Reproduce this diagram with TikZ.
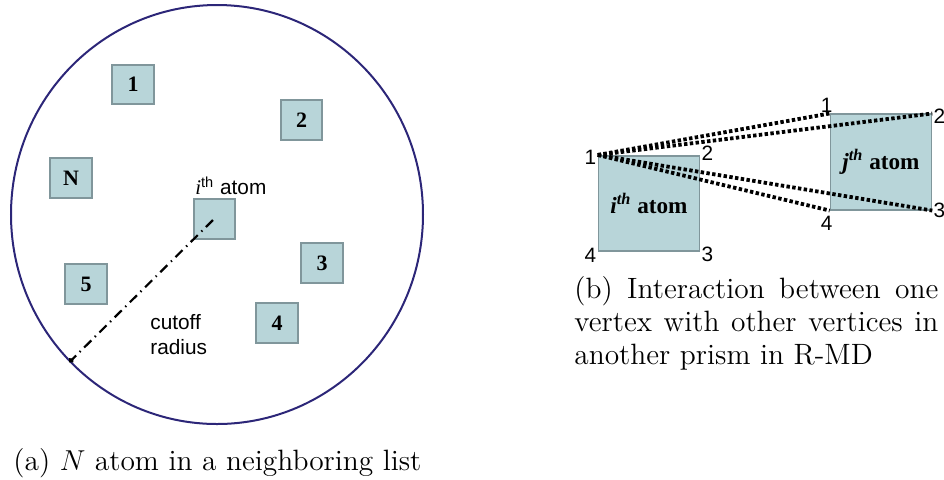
\documentclass[tikz,border=0pt]{standalone}
\usepackage{fontspec}
\newfontfamily\arialf{Liberation Sans}
\newfontfamily\timesf{Liberation Serif}
\usetikzlibrary{positioning, arrows.meta, shapes.geometric}

\definecolor{ringblue}{RGB}{44,38,120}
\definecolor{boxfill}{RGB}{184,213,217}
\definecolor{boxline}{RGB}{128,150,155}

\tikzset{
  atombox/.style={draw=boxline, fill=boxfill, line width=0.8pt, minimum width=20.75pt,
    minimum height=19.75pt, inner sep=0pt, font=\timesf\bfseries\fontsize{11}{13}\selectfont},
  prism/.style={draw=boxline, fill=boxfill, line width=0.8pt, minimum width=50.5pt,
    minimum height=47.75pt, inner sep=0pt, font=\timesf\bfseries\fontsize{11.6}{13}\selectfont},
  vlabel/.style={inner sep=0.5pt, font=\arialf\fontsize{10.4}{12.5}\selectfont},
  pair/.style={line width=1.9pt, dash pattern=on 1.7pt off 1.2pt},
  caption/.style={inner sep=0pt, font=\fontsize{14.7}{16.4}\selectfont},
}

\begin{document}
\begin{tikzpicture}[x=0.5pt, y=-0.5pt]
  \useasboundingbox (0,0) rectangle (944,479);

  % (a) neighbouring list
  \node[draw=ringblue, line width=1pt, ellipse, minimum width=206pt, minimum height=209.5pt,
    inner sep=0pt] (ring) at (217,214.5) {};
  \node[atombox] (atom 1) at (133,84.5)  {1};
  \node[atombox] (atom 2) at (301.5,120) {2};
  \node[atombox] (atom N) at (71,178)    {N};
  \node[atombox] (atom i) at (214.5,219) {};
  \node[atombox] (atom 3) at (322,263)   {3};
  \node[atombox] (atom 5) at (86,284)    {5};
  \node[atombox] (atom 4) at (277,323)   {4};
  \node[vlabel, anchor=south west] (ilabel) at (194,196) {{\timesf\itshape i}\textsuperscript{th} atom};
  \coordinate (rstart) at (213,220);
  \draw[line width=1.1pt, dash pattern=on 5pt off 2.5pt on 0.7pt off 2.5pt,
    -{Circle[length=2.5pt]}] (rstart) -- (ring.225);
  \node[vlabel, align=left, anchor=north west] (rlabel) at (149,313) {cutoff\\radius};

  % (b) vertex interaction
  \node[prism] (ibox) at (649,203.5) {\textit{i}\textsuperscript{\textit{th}} atom};
  \node[prism] (jbox) at (881,162)   {\textit{j}\textsuperscript{\textit{th}} atom};

  \foreach \c in {north west, north east, south east, south west}
    \draw[pair] (ibox.north west) -- (jbox.\c);

  \node[vlabel, left=0pt of ibox.north west, yshift=-1pt]  (i1) {1};
  \node[vlabel, right=0pt of ibox.north east, yshift=1pt]  (i2) {2};
  \node[vlabel, right=0pt of ibox.south east, yshift=-1pt] (i3) {3};
  \node[vlabel, left=0pt of ibox.south west, yshift=-1.5pt] (i4) {4};
  \node[vlabel, above=0pt of jbox.north west, xshift=-1.5pt] (j1) {1};
  \node[vlabel, right=0pt of jbox.north east, yshift=-1.5pt] (j2) {2};
  \node[vlabel, right=0pt of jbox.south east]                (j3) {3};
  \node[vlabel, below=2pt of jbox.south west, xshift=-1.5pt] (j4) {4};

  % captions
  \node[caption, anchor=base west] (capa) at (13,470) {(a) $N$ atom in a neighboring list};
  \node[caption, anchor=north west, text width=182pt, align=justify] (capb) at (574,276)
    {\baselineskip=16.4pt (b) Interaction between one vertex with other vertices in another prism in R-MD\par};
\end{tikzpicture}
\end{document}
